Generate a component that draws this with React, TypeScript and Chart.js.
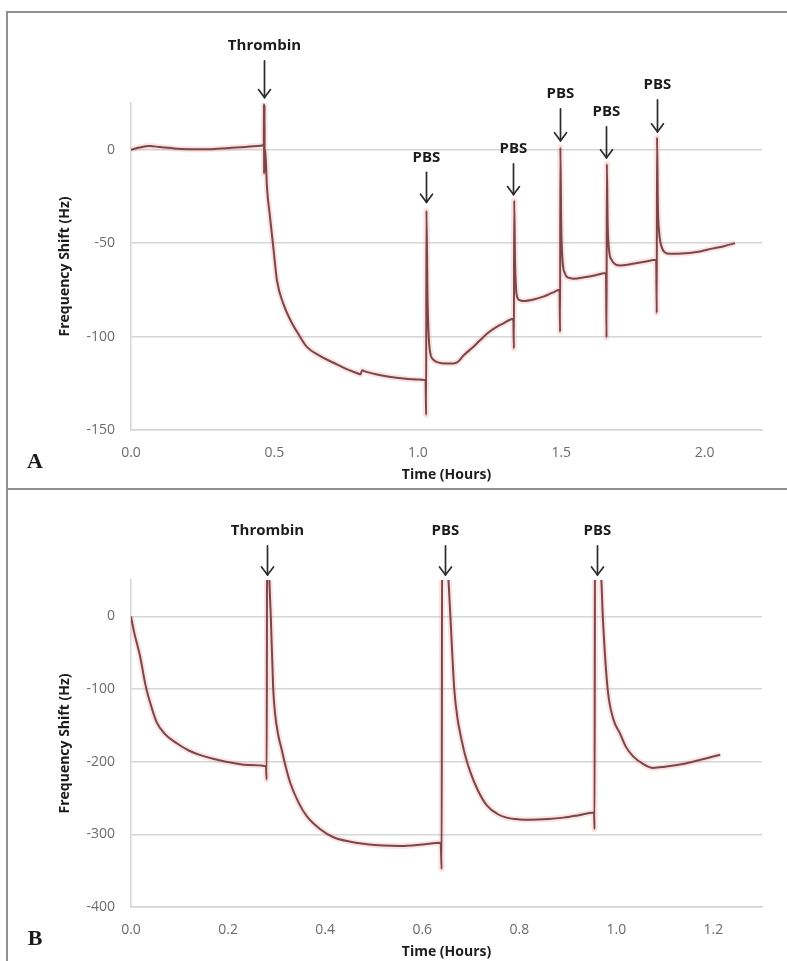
import React, { useEffect, useRef } from "react";
import { Chart, registerables } from "chart.js";

Chart.register(...registerables);

// ---------- Panel A data ----------
const timeA = [
  0.0, 0.03, 0.065, 0.1, 0.15, 0.2, 0.25, 0.3, 0.35, 0.4, 0.44, 0.463,
  0.4635, 0.464, 0.4645, 0.465, 0.4655, 0.466, 0.468, 0.474, 0.484, 0.496,
  0.509, 0.53, 0.555, 0.585, 0.613, 0.66, 0.706, 0.75, 0.787, 0.8, 0.806,
  0.815, 0.85, 0.9, 0.95, 1.0, 1.027, 1.029, 1.03, 1.034, 1.038, 1.043,
  1.055, 1.07, 1.1, 1.124, 1.14, 1.16, 1.19, 1.217, 1.245, 1.275, 1.3,
  1.333, 1.335, 1.336, 1.339, 1.342, 1.345, 1.355, 1.368, 1.403, 1.44,
  1.47, 1.494, 1.496, 1.497, 1.5, 1.504, 1.513, 1.525, 1.543, 1.58, 1.62,
  1.656, 1.658, 1.659, 1.662, 1.667, 1.676, 1.69, 1.705, 1.75, 1.79, 1.831,
  1.833, 1.834, 1.837, 1.842, 1.85, 1.862, 1.879, 1.92, 1.972, 2.03, 2.07,
  2.106,
];
const shiftA = [
  0, 1.2, 2.0, 1.4, 0.7, 0.3, 0.2, 0.5, 1.0, 1.5, 2.0, 2.5,
  24.5, -13, 24, -12, 24, -10, 0, -20, -35, -52,
  -70, -82, -91, -99, -105.5, -110.5, -114, -117.3, -119.5, -120.2, -118,
  -118.6, -120, -121.5, -122.5, -123, -123.3, -142, -32.6, -80, -100, -108.5,
  -112.5, -113.8, -114.4, -114.4, -113.5, -110, -106, -102, -98, -94.8, -92.8,
  -90.5, -106.4, -27.2, -60, -73, -78, -80.5, -81, -80.2, -78.5,
  -76.5, -75, -97.5, 1.2, -40, -58, -66.3, -68.5, -69, -68.3, -67.2,
  -66, -100.5, -7.6, -40, -54, -59, -61.5, -62, -61, -60, -58.9,
  -87.4, 6.6, -30, -45, -52, -55, -55.7, -55.6, -54.8, -52.8, -51.5,
  -50,
];
const xTicksA = [0, 0.5, 1.0, 1.5, 2.0];
const yTicksA = [-150, -100, -50, 0];
const eventLabelsA = ["Thrombin", "PBS", "PBS", "PBS", "PBS", "PBS"];
const eventTimesA = [0.462, 1.029, 1.332, 1.496, 1.656, 1.833];
const arrowTipA = [27.9, -28.1, -24, 4.8, -4.3, 9.6];
const arrowTailA = [47.5, -12.1, -7.5, 21.9, 12.3, 26.7];

// ---------- Panel B data ----------
const timeB = [
  0.0, 0.0055, 0.019, 0.03, 0.04, 0.053, 0.07, 0.095, 0.12, 0.143, 0.175,
  0.211, 0.245, 0.278, 0.2795, 0.2805, 0.285, 0.288, 0.293, 0.297, 0.303,
  0.311, 0.318, 0.328, 0.345, 0.362, 0.39, 0.417, 0.45, 0.486, 0.52, 0.555,
  0.6, 0.638, 0.64, 0.641, 0.654, 0.658, 0.666, 0.673, 0.678, 0.688, 0.699,
  0.715, 0.733, 0.755, 0.774, 0.8, 0.822, 0.86, 0.891, 0.92, 0.954, 0.955,
  0.956, 0.969, 0.972, 0.982, 0.994, 1.008, 1.02, 1.035, 1.055, 1.076, 1.1,
  1.131, 1.17, 1.214,
];
const shiftB = [
  0, -19, -56, -95, -120, -146, -162, -175, -185, -191, -197,
  -201.8, -204.5, -206.5, -224.7, 150, 50, 0, -100, -135, -162,
  -185, -205, -229, -256, -275, -293, -304, -310, -313.7, -315.5, -316,
  -314, -311.5, -348, 150, 50, 0, -100, -142, -160, -190, -214,
  -240, -260, -272, -277, -279.5, -280, -279, -277, -274, -270, -293,
  150, 50, 0, -100, -142, -162, -180, -193, -203, -208.6, -207,
  -204, -198, -190.4,
];
const xTicksB = [0, 0.2, 0.4, 0.6, 0.8, 1.0, 1.2];
const yTicksB = [-400, -300, -200, -100, 0];
const eventLabelsB = ["Thrombin", "PBS", "PBS"];
const eventTimesB = [0.28, 0.647, 0.961];
const arrowTipB = [57, 57, 57];
const arrowTailB = [97, 97, 97];

const FONT = "'Open Sans', 'DejaVu Sans', sans-serif";
const LINE_COLOR = "#7c4548";
const HALO_COLOR = "rgba(232,145,145,0.26)";
const GRID_COLOR = "#d6d6d6";
const TICK_COLOR = "#6b6b6b";

type PanelProps = {
  letter: string;
  times: number[];
  shifts: number[];
  xMax: number;
  yMin: number;
  yMax: number;
  xTicks: number[];
  yTicks: number[];
  labels: string[];
  eventTimes: number[];
  tips: number[];
  tails: number[];
  top: number;
  height: number;
  plotTop: number;
  plotBottom: number;
};

function Panel(p: PanelProps) {
  const ref = useRef<HTMLCanvasElement>(null);
  useEffect(() => {
    const canvas = ref.current;
    if (!canvas) return;
    const pts = p.times.map((t, i) => ({ x: t, y: p.shifts[i] }));
    const overlay = {
      id: "overlay" + p.letter,
      afterDraw(chart: any) {
        const ctx = chart.ctx as CanvasRenderingContext2D;
        const ca = chart.chartArea;
        const xs = chart.scales.x;
        const ys = chart.scales.y;
        ctx.save();
        // event arrows + labels
        p.labels.forEach((lab, i) => {
          const px = Math.round(xs.getPixelForValue(p.eventTimes[i])) + 0.5;
          const tipY = ys.getPixelForValue(p.tips[i]);
          const tailY = ys.getPixelForValue(p.tails[i]);
          ctx.strokeStyle = "#2b2b2b";
          ctx.lineWidth = 1.7;
          ctx.lineCap = "round";
          ctx.beginPath();
          ctx.moveTo(px, tailY);
          ctx.lineTo(px, tipY);
          ctx.stroke();
          ctx.beginPath();
          ctx.moveTo(px - 6, tipY - 8);
          ctx.lineTo(px, tipY);
          ctx.lineTo(px + 6, tipY - 8);
          ctx.stroke();
          ctx.fillStyle = "#1c1c1c";
          ctx.font = `bold 15px ${FONT}`;
          ctx.textAlign = "center";
          ctx.textBaseline = "middle";
          ctx.fillText(lab, px, tailY - 15);
        });
        // axis titles
        ctx.fillStyle = "#1c1c1c";
        ctx.font = `bold 14px ${FONT}`;
        ctx.textAlign = "center";
        ctx.textBaseline = "middle";
        ctx.fillText("Time (Hours)", (ca.left + ca.right) / 2, ca.bottom + 45);
        ctx.save();
        ctx.translate(65, (ca.top + ca.bottom) / 2);
        ctx.rotate(-Math.PI / 2);
        ctx.fillText("Frequency Shift (Hz)", 0, 0);
        ctx.restore();
        // panel letter
        ctx.font = `bold 22px 'Liberation Serif', 'DejaVu Serif', serif`;
        ctx.textAlign = "center";
        ctx.textBaseline = "alphabetic";
        ctx.fillStyle = "#1a1a1a";
        ctx.fillText(p.letter, 35, ca.bottom + 38);
        ctx.restore();
      },
    };
    const chart = new Chart(canvas, {
      type: "scatter",
      data: {
        datasets: [
          {
            data: pts,
            showLine: true,
            borderColor: LINE_COLOR,
            borderWidth: 2,
            pointRadius: 0,
            cubicInterpolationMode: "monotone",
            order: 0,
            clip: 0,
          },
          {
            data: pts,
            showLine: true,
            borderColor: HALO_COLOR,
            borderWidth: 6,
            pointRadius: 0,
            cubicInterpolationMode: "monotone",
            order: 1,
            clip: 0,
          },
        ],
      } as any,
      options: {
        animation: false,
        responsive: false,
        events: [],
        layout: { padding: { top: p.plotTop, right: 25, left: 0, bottom: 0 } },
        plugins: { legend: { display: false }, tooltip: { enabled: false } },
        scales: {
          x: {
            type: "linear",
            min: 0,
            max: p.xMax,
            afterFit: (s: any) => {
              s.height = p.height - p.plotBottom;
            },
            afterBuildTicks: (s: any) => {
              s.ticks = p.xTicks.map((v) => ({ value: v }));
            },
            grid: { display: false, drawTicks: false },
            border: { display: true, color: GRID_COLOR, width: 1.5 },
            ticks: {
              padding: 15,
              color: TICK_COLOR,
              font: { family: FONT, size: 14 },
              maxRotation: 0,
              autoSkip: false,
              callback: (v: any) => Number(v).toFixed(1),
            },
          },
          y: {
            type: "linear",
            min: p.yMin,
            max: p.yMax,
            afterFit: (s: any) => {
              s.width = 131;
            },
            afterBuildTicks: (s: any) => {
              s.ticks = p.yTicks.map((v) => ({ value: v }));
            },
            grid: { display: true, drawTicks: false, color: GRID_COLOR, lineWidth: 1.5 },
            border: { display: true, color: GRID_COLOR, width: 1.5 },
            ticks: {
              padding: 16,
              color: TICK_COLOR,
              font: { family: FONT, size: 14 },
              autoSkip: false,
              callback: (v: any) => String(v),
            },
          },
        },
      } as any,
      plugins: [overlay],
    });
    return () => chart.destroy();
  }, []);
  return (
    <canvas
      ref={ref}
      width={787}
      height={p.height}
      style={{ position: "absolute", left: 0, top: p.top, width: 787, height: p.height }}
    />
  );
}

export default function App() {
  const border = "#8f8f8f";
  return (
    <div
      style={{
        position: "fixed",
        left: 0,
        top: 0,
        width: 787,
        height: 961,
        background: "#ffffff",
        overflow: "hidden",
      }}
    >
      <Panel
        letter="A"
        times={timeA}
        shifts={shiftA}
        xMax={2.2}
        yMin={-150}
        yMax={25}
        xTicks={xTicksA}
        yTicks={yTicksA}
        labels={eventLabelsA}
        eventTimes={eventTimesA}
        tips={arrowTipA}
        tails={arrowTailA}
        top={0}
        height={489}
        plotTop={103}
        plotBottom={430}
      />
      <Panel
        letter="B"
        times={timeB}
        shifts={shiftB}
        xMax={1.3}
        yMin={-400}
        yMax={50}
        xTicks={xTicksB}
        yTicks={yTicksB}
        labels={eventLabelsB}
        eventTimes={eventTimesB}
        tips={arrowTipB}
        tails={arrowTailB}
        top={489}
        height={472}
        plotTop={91}
        plotBottom={418}
      />
      <div style={{ position: "absolute", left: 6, top: 11, width: 781, height: 2, background: border }} />
      <div style={{ position: "absolute", left: 6, top: 11, width: 2, height: 950, background: border }} />
      <div style={{ position: "absolute", left: 6, top: 488, width: 781, height: 2, background: border }} />
    </div>
  );
}
